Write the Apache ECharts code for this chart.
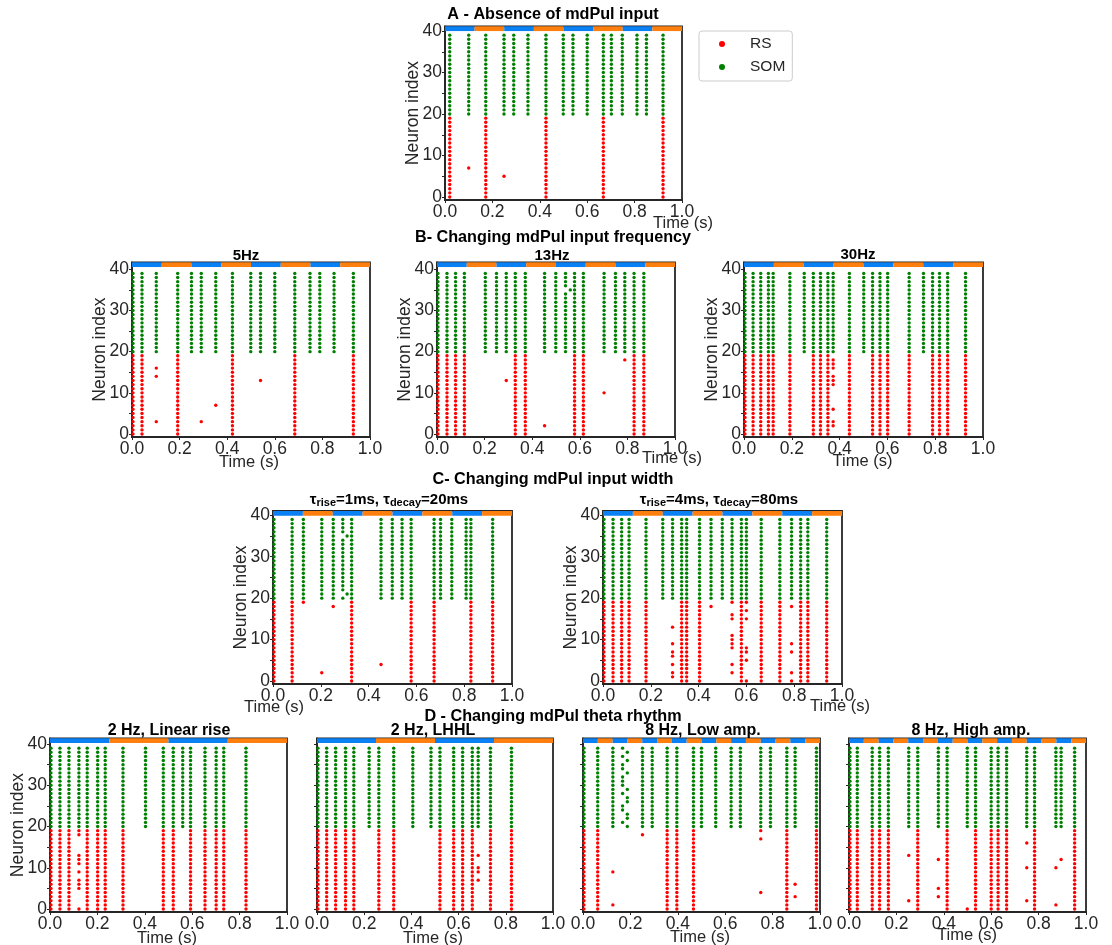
<!DOCTYPE html>
<html><head><meta charset="utf-8">
<style>html,body{margin:0;padding:0;background:#fff}#c{width:1112px;height:945px}</style>
<script src="https://cdn.jsdelivr.net/npm/echarts@6/dist/echarts.min.js"></script>
</head><body><div id="c"></div>
<script>
// ---------- shared tick values ----------
const xTickValues = [0, 0.2, 0.4, 0.6, 0.8, 1.0];
const yLabelValues = [0, 10, 20, 30, 40];
const yTickValues = [0, 5, 10, 15, 20, 25, 30, 35, 40];
const rsNeurons = [0,1,2,3,4,5,6,7,8,9,10,11,12,13,14,15,16,17,18,19];
const somNeurons = [20,21,22,23,24,25,26,27,28,29,30,31,32,33,34,35,36,37,38,39];
// theta band edges
const theta4Hz = [0,.125,.25,.375,.5,.625,.75,.875,1];
const theta2Hz = [0,.25,.5,.75,1];
const theta8Hz = [0,.0625,.125,.1875,.25,.3125,.375,.4375,.5,.5625,.625,.6875,.75,.8125,.875,.9375,1];

// ---------- A ----------
const aSom = [.02,.10,.172,.249,.29,.35,.426,.499,.54,.60,.668,.702,.748,.81,.85,.92];
const aRs = [.02,.172,.426,.668,.92];
const aSomSpikes = [];
const aRsSpikes = [[.10,7],[.249,5]];
// ---------- B ----------
const b5Som = [.004,.042,.102,.192,.25,.291,.352,.422,.499,.54,.60,.684,.748,.789,.849,.93];
const b5Rs = [.004,.042,.192,.422,.684,.93];
const b5SomSpikes = [];
const b5RsSpikes = [[.102,16],[.102,14],[.102,3],[.291,3],[.352,7],[.54,13]];

const b13Som = [.004,.042,.078,.115,.203,.25,.291,.329,.371,.452,.499,.578,.615,.702,.75,.789,.828,.869];
const b13Rs = [.004,.042,.078,.115,.329,.371,.578,.615,.828,.869];
const b13SomSpikes = [[.54,20],[.54,21],[.54,22],[.54,23],[.54,24],[.54,25],[.54,26],[.54,27],[.54,28],[.54,29],[.54,30],[.54,31],[.54,32],[.54,33],[.54,34],[.56,35],[.54,36],[.54,37],[.54,38],[.54,39]];
const b13RsSpikes = [[.291,13],[.452,2],[.702,10],[.789,18]];

const b30Som = [.004,.038,.07,.102,.122,.192,.252,.29,.32,.351,.373,.441,.501,.538,.569,.601,.691,.751,.789,.818,.852,.927];
const b30Rs = [.004,.038,.07,.102,.122,.192,.29,.32,.351,.441,.538,.569,.601,.691,.789,.818,.852,.927];
const b30SomSpikes = [];
const b30RsSpikes = [[.373,18],[.373,17],[.373,16],[.373,14],[.373,13],[.373,12],[.373,6],[.373,3],[.373,2]];
// ---------- C ----------
const c1Som = [.004,.08,.127,.204,.252,.329,.452,.499,.54,.578,.674,.701,.748,.808,.828,.919];
const c1Rs = [.004,.08,.329,.578,.674,.828,.919];
const c1SomSpikes = [[.292,20],[.31,21],[.292,22],[.292,23],[.292,24],[.292,25],[.292,26],[.292,27],[.292,28],[.292,29],[.292,30],[.292,31],[.292,32],[.292,33],[.292,34],[.31,35],[.292,36],[.292,37],[.292,38],[.292,39]];
const c1RsSpikes = [[.127,19],[.204,2],[.252,18],[.452,4]];

const c2Som = [.004,.042,.078,.109,.18,.25,.291,.329,.35,.404,.452,.499,.54,.579,.6,.662,.74,.789,.827,.857,.936];
const c2Rs = [.004,.042,.078,.109,.18,.329,.35,.404,.579,.662,.74,.827,.857,.936];
const c2SomSpikes = [];
const c2RsSpikes = [[.291,13],[.291,9],[.291,7],[.291,6],[.291,4],[.291,2],[.291,1],[.452,18],
  [.54,19],[.54,16],[.54,15],[.54,11],[.54,10],[.54,9],[.54,8],[.54,4],[.54,2],
  [.6,19],[.6,17],[.6,15],[.6,8],[.6,7],[.6,5],[.6,0],
  [.789,18],[.789,9],[.789,7],[.789,2],[.789,0]];
// ---------- D ----------
const d1Som = [.004,.042,.08,.122,.157,.201,.233,.308,.403,.478,.52,.56,.593,.654,.701,.733,.827];
const d1Rs = [.004,.042,.08,.157,.201,.233,.308,.478,.52,.593,.654,.701,.733,.827];
const d1SomSpikes = [];
const d1RsSpikes = [[.122,19],[.122,18],[.122,13],[.122,12],[.122,11],[.122,9],[.122,7],[.122,6],[.122,5],[.122,0]];

const d2Som = [.004,.041,.079,.121,.156,.221,.262,.325,.406,.483,.521,.579,.617,.658,.683,.735,.824];
const d2Rs = [.004,.041,.079,.121,.156,.262,.325,.521,.579,.617,.658,.735,.824];
const d2SomSpikes = [];
const d2RsSpikes = [[.683,13],[.683,10],[.683,9],[.683,7]];

const d3Som = [.004,.062,.126,.251,.292,.355,.396,.466,.5,.56,.625,.664,.75,.791,.86,.895,.985];
const d3Rs = [.004,.062,.355,.396,.466,.86,.985];
const d3SomSpikes = [[.187,38],[.187,36],[.187,33],[.187,29],[.187,27],[.187,26],[.187,23],[.187,22],[.187,20],
  [.167,39],[.167,37],[.167,35],[.167,34],[.167,32],[.167,31],[.167,30],[.167,28],[.167,25],[.167,24],[.167,21]];
const d3RsSpikes = [[.251,18],[.126,9],[.126,1],[.75,19],[.75,17],[.75,4],[.895,6],[.895,3]];

const d4Som = [.004,.035,.098,.129,.166,.252,.29,.377,.414,.499,.534,.6,.629,.665,.75,.783,.873,.895,.952];
const d4Rs = [.004,.035,.098,.129,.166,.29,.414,.534,.6,.629,.665,.783,.952];
const d4SomSpikes = [];
const d4RsSpikes = [[.252,13],[.252,2],[.377,12],[.377,5],[.377,3],[.499,0],[.75,16],[.75,10],[.75,2],[.873,10],[.873,1],[.895,12]];

// ---------- text ----------
const sectionTitles = [
  ['A - Absence of mdPul input', 553, 15],
  ['B- Changing mdPul input frequency', 553, 238],
  ['C- Changing mdPul input width', 553, 480],
  ['D - Changing mdPul theta rhythm', 553, 717]
];

// ---------- panel wiring (layout kept separate from data) ----------
const COLORS = {rs:'#ff0000', som:'#008000', blue:'#0a80f5', orange:'#ff7f0e', ink:'#262626'};
const panels = [
 {som:aSom, rs:aRs, ss:aSomSpikes, rr:aRsSpikes, th:theta4Hz, x0:445,x1:682,top:26.3,bot:200,y0:197,y40:31, tx:683,ty:223},
 {som:b5Som, rs:b5Rs, ss:b5SomSpikes, rr:b5RsSpikes, th:theta4Hz, x0:132,x1:370,top:262.3,bot:437,y0:434,y40:269.3, t:'5Hz',cx:246,cy:256,fs:15,tx:249,ty:462},
 {som:b13Som, rs:b13Rs, ss:b13SomSpikes, rr:b13RsSpikes, th:theta4Hz, x0:437,x1:675,top:262.3,bot:437,y0:434,y40:269.3, t:'13Hz',cx:552,cy:256,fs:15,tx:672,ty:458},
 {som:b30Som, rs:b30Rs, ss:b30SomSpikes, rr:b30RsSpikes, th:theta4Hz, x0:744,x1:983,top:262.3,bot:437,y0:434,y40:269.3, t:'30Hz',cx:858,cy:255,fs:15,tx:862.5,ty:461},
 {som:c1Som, rs:c1Rs, ss:c1SomSpikes, rr:c1RsSpikes, th:theta4Hz, x0:273,x1:512,top:511,bot:684,y0:681,y40:515.3, t:'{b|τ}{s|rise}{b|=1ms, τ}{s|decay}{b|=20ms}',cx:389,cy:500,fs:15,tx:274,ty:707},
 {som:c2Som, rs:c2Rs, ss:c2SomSpikes, rr:c2RsSpikes, th:theta4Hz, x0:603,x1:842,top:511,bot:684,y0:681,y40:515.3, t:'{b|τ}{s|rise}{b|=4ms, τ}{s|decay}{b|=80ms}',cx:719,cy:500,fs:15,tx:840,ty:706},
 {som:d1Som, rs:d1Rs, ss:d1SomSpikes, rr:d1RsSpikes, th:theta2Hz, x0:50,x1:287,top:738.3,bot:912,y0:909,y40:744, t:'2 Hz, Linear rise',cx:169,cy:731,fs:16,tx:167,ty:938},
 {som:d2Som, rs:d2Rs, ss:d2SomSpikes, rr:d2RsSpikes, th:theta2Hz, x0:317,x1:553,top:738.3,bot:912,y0:909,y40:744, t:'2 Hz, LHHL',cx:433,cy:731,fs:16,tx:433,ty:938,noY:1},
 {som:d3Som, rs:d3Rs, ss:d3SomSpikes, rr:d3RsSpikes, th:theta8Hz, x0:583,x1:820,top:738.3,bot:912,y0:909,y40:744, t:'8 Hz, Low amp.',cx:703,cy:731,fs:16,tx:700,ty:937,noY:1},
 {som:d4Som, rs:d4Rs, ss:d4SomSpikes, rr:d4RsSpikes, th:theta8Hz, x0:849,x1:1086,top:738.3,bot:912,y0:909,y40:744, t:'8 Hz, High amp.',cx:971,cy:731,fs:16,tx:967,ty:935,noY:1}
];

const FONT = '"Liberation Sans", Arial, sans-serif';
const grid = [], xAxis = [], yAxis = [], series = [], title = [];

sectionTitles.forEach(s => title.push({text:s[0], left:s[1], top:s[2], textAlign:'center', textVerticalAlign:'middle', padding:0,
  textStyle:{fontFamily:FONT, fontWeight:'bold', fontSize:16.2, color:'#000'}}));

function columns(times, neurons){ const out=[]; times.forEach(t=>neurons.forEach(n=>out.push([t,n]))); return out; }

panels.forEach((p,i) => {
  const unit = (p.y0-p.y40)/40;
  const ymin = -(p.bot-p.y0)/unit, ymax = 40+(p.y40-p.top)/unit;
  grid.push({left:p.x0, top:p.top, width:p.x1-p.x0, height:p.bot-p.top, show:true, borderColor:COLORS.ink, borderWidth:1.8, backgroundColor:'#fff'});
  xAxis.push({gridIndex:i, type:'value', min:0, max:1, splitLine:{show:false},
    axisLine:{show:true, onZero:false, lineStyle:{color:COLORS.ink,width:1.8}},
    axisTick:{show:true, customValues:xTickValues, length:3, lineStyle:{color:COLORS.ink}},
    axisLabel:{show:true, customValues:xTickValues, margin:3, fontFamily:FONT, fontSize:17.5, color:COLORS.ink, formatter:v=>v.toFixed(1), hideOverlap:false}});
  yAxis.push({gridIndex:i, type:'value', min:ymin, max:ymax, splitLine:{show:false},
    axisLine:{show:true, onZero:false, lineStyle:{color:COLORS.ink,width:1.8}},
    axisTick:{show:true, customValues:yTickValues, length:3, lineStyle:{color:COLORS.ink}},
    axisLabel:{show:!p.noY, customValues:yLabelValues, margin:3, fontFamily:FONT, fontSize:17.5, color:COLORS.ink, hideOverlap:false},
    name:p.noY?'':'Neuron index', nameLocation:'middle', nameGap:23, nameRotate:90, nameMoveOverlap:false,
    nameTextStyle:{fontFamily:FONT, fontSize:17.5, color:COLORS.ink}});

  const rsData = columns(p.rs, rsNeurons).concat(p.rr);
  const somData = columns(p.som, somNeurons).concat(p.ss);
  series.push({name:'RS', type:'scatter', xAxisIndex:i, yAxisIndex:i, data:rsData, symbolSize:3.4, itemStyle:{color:COLORS.rs, opacity:1}, silent:true, animation:false, clip:false});
  series.push({name:'SOM', type:'scatter', xAxisIndex:i, yAxisIndex:i, data:somData, symbolSize:3.4, itemStyle:{color:COLORS.som, opacity:1}, silent:true, animation:false, clip:false});
  const bands = p.th.slice(0,-1).map((a,k)=>[a,p.th[k+1],k%2]);
  series.push({name:'theta', type:'custom', xAxisIndex:i, yAxisIndex:i, data:bands, silent:true, animation:false, clip:false, z:5,
    encode:{x:[0,1]},
    renderItem:(params,api)=>{
      const a=api.coord([api.value(0),ymax]), b=api.coord([api.value(1),ymax-1.15]);
      return {type:'rect', shape:{x:a[0],y:a[1],width:b[0]-a[0],height:b[1]-a[1]},
        style:{fill:api.value(2)?COLORS.orange:COLORS.blue}};
    }});
  if(p.t) title.push({text:p.t, left:p.cx, top:p.cy, textAlign:'center', textVerticalAlign:'middle', padding:0,
    textStyle:{fontFamily:FONT, fontWeight:'bold', fontSize:p.fs, color:'#000',
      rich:{b:{fontFamily:FONT,fontWeight:'bold',fontSize:p.fs,color:'#000'}, s:{fontFamily:FONT,fontWeight:'bold',fontSize:11,color:'#000',verticalAlign:'bottom',padding:[6,0,0,0]}}}});
  title.push({text:'Time (s)', left:p.tx, top:p.ty, textAlign:'center', textVerticalAlign:'middle', padding:0,
    textStyle:{fontFamily:FONT, fontWeight:'normal', fontSize:16.5, color:COLORS.ink}});
});

const chart = echarts.init(document.getElementById('c'), null, {renderer:'canvas'});
chart.setOption({
  animation:false, backgroundColor:'#fff', title, grid, xAxis, yAxis, series,
  legend:{data:['RS','SOM'], left:699, top:31, orient:'vertical', padding:[4,7,5,20], itemWidth:26, itemHeight:6, itemGap:5,
    borderColor:'#ccc', borderWidth:1, borderRadius:3, backgroundColor:'#fff', icon:'circle', selectedMode:false,
    textStyle:{fontFamily:FONT, fontSize:15.5, color:COLORS.ink, padding:[0,0,0,10], lineHeight:18}}
});
</script></body></html>
